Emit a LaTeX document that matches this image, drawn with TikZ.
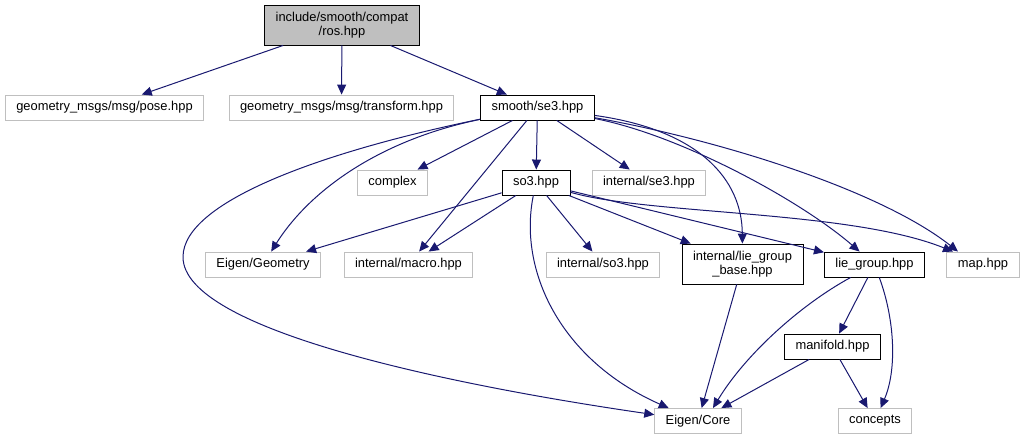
\documentclass[tikz,border=0pt]{standalone}
\usepackage{fontspec}
\setmainfont{Liberation Sans}
\definecolor{EdgeBlue}{HTML}{191970}
\definecolor{BoxGrey}{HTML}{BFBFBF}
\usetikzlibrary{arrows.meta,positioning}

\begin{document}
\begin{tikzpicture}[x=1pt,y=-1pt,every node/.style={draw,align=center,inner xsep=11pt,inner ysep=0pt,minimum height=25pt,font=\fontsize{12.9}{14.5}\selectfont,line width=0.9pt},
    ext/.style={draw=BoxGrey},
    hdr/.style={draw=black},
    src/.style={draw=black,fill=BoxGrey,minimum height=40pt},
    edge/.style={-{Triangle[length=10pt,width=9pt]},EdgeBlue,line width=1pt}]
      \useasboundingbox (0,0) rectangle (1029,440);
      \node[src] (ros) at (342,25) {include/smooth/compat\\/ros.hpp};
      \node[ext] (pose) at (104.5,107.5) {geometry\_msgs/msg/pose.hpp};
      \node[ext] (transform) at (341.5,107.5) {geometry\_msgs/msg/transform.hpp};
      \node[hdr] (se3) at (537.5,107.5) {smooth/se3.hpp};
      \node[ext] (complex) at (392.5,182.5) {complex};
      \node[hdr] (so3) at (536,182.5) {so3.hpp};
      \node[ext] (ise3) at (649,182.5) {internal/se3.hpp};
      \node[ext] (egeom) at (263,264.5) {Eigen/Geometry};
      \node[ext] (macro) at (408.5,264.5) {internal/macro.hpp};
      \node[ext] (iso3) at (603,264.5) {internal/so3.hpp};
      \node[hdr,minimum height=40pt] (lgbase) at (742.5,264) {internal/lie\_group\\\_base.hpp};
      \node[hdr] (liegroup) at (874.5,264.5) {lie\_group.hpp};
      \node[ext] (map) at (983,264.5) {map.hpp};
      \node[hdr] (manifold) at (832.5,346.5) {manifold.hpp};
      \node[ext] (ecore) at (698,421) {Eigen/Core};
      \node[ext] (concepts) at (875,421) {concepts};
      \foreach \x/\y in {ros/pose,ros/transform,ros/se3,se3/complex,se3/so3,se3/ise3,se3/macro,so3/egeom,so3/macro,so3/iso3,so3/lgbase,so3/liegroup,lgbase/ecore,liegroup/manifold,manifold/ecore,manifold/concepts}{\draw[edge] (\x)--(\y);}
      \draw[edge] (se3) .. controls (380,140) and (310,190) .. (egeom);
      \draw[edge] (se3) .. controls (330,150) and (183,200) .. (183,257) .. controls (183,330) and (450,385) .. (ecore);
      \draw[edge] (se3) .. controls (700,130) and (742,180) .. (lgbase);
      \draw[edge] (se3) .. controls (680,135) and (800,200) .. (liegroup);
      \draw[edge] (se3) .. controls (720,140) and (880,190) .. ([xshift=-25pt]map.north);
      \draw[edge] (so3) .. controls (650,215) and (850,210) .. ([xshift=-30pt]map.north);
      \draw[edge] (so3) .. controls (518,270) and (560,360) .. (ecore);
      \draw[edge] (liegroup) .. controls (800,305) and (745,355) .. ([xshift=15pt]ecore.north);
      \draw[edge] (liegroup) .. controls (895,320) and (897,370) .. (concepts);
    \end{tikzpicture}
\end{document}
